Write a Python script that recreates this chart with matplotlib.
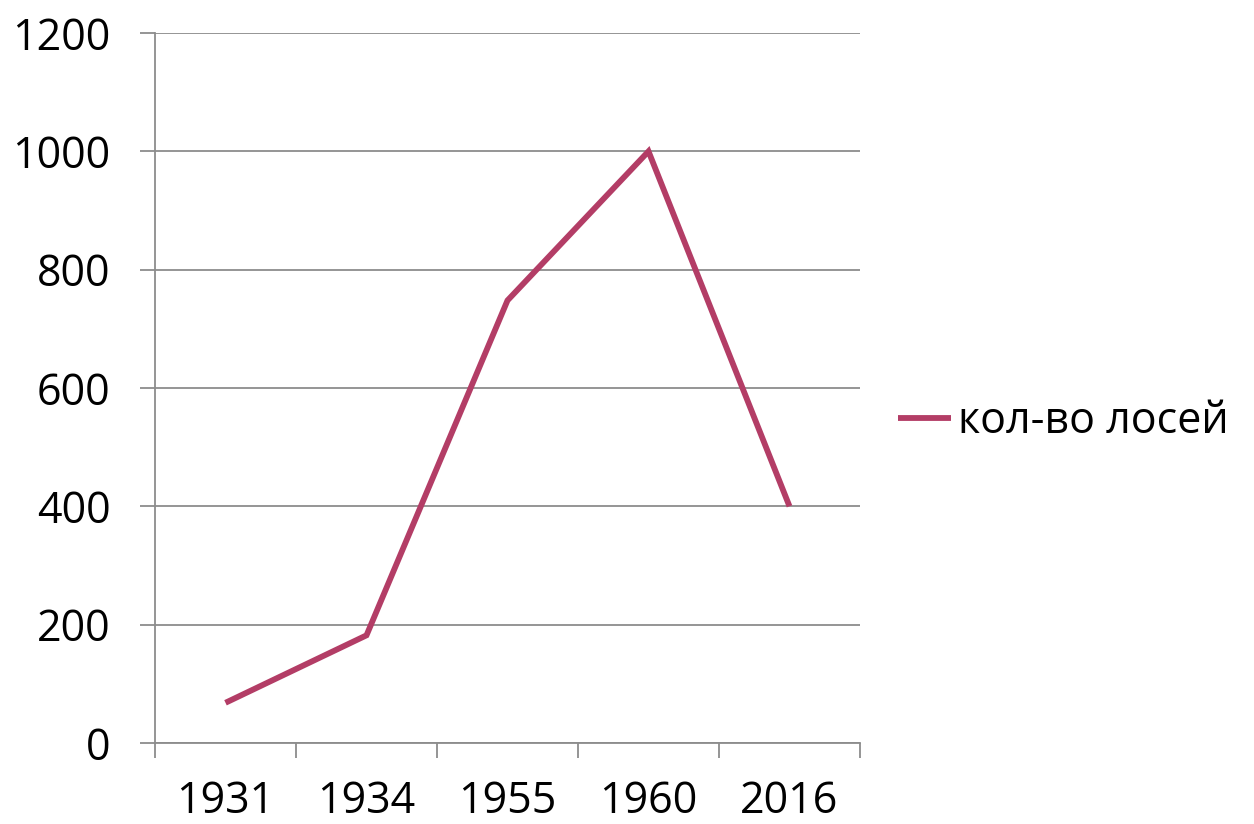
import matplotlib
matplotlib.use("Agg")
import matplotlib.pyplot as plt

# данные
years = ["1931", "1934", "1955", "1960", "2016"]
moose = [68, 182, 748, 1000, 400]
series_name = "кол-во лосей"

plt.rcParams['font.family'] = ['Open Sans', 'DejaVu Sans']

fig = plt.figure(figsize=(12.54, 8.24), dpi=100)
ax = fig.add_axes([155 / 1254, 1 - 743 / 824, 705 / 1254, 710 / 824])

x = list(range(len(years)))
ax.plot(x, moose, color='#B33D66', linewidth=4.2, solid_joinstyle='miter',
        solid_capstyle='butt', label=series_name, zorder=3)

ax.set_xlim(-0.5, len(years) - 0.5)
ax.set_ylim(0, 1200)
ax.set_yticks(range(0, 1201, 200))
ax.set_xticks(x)
ax.set_xticklabels(years)
ax.set_xticks([i - 0.5 for i in range(len(years) + 1)], minor=True)

ax.grid(axis='y', color='#8c8c8c', linewidth=1.3)
ax.set_axisbelow(True)
for side in ['top', 'right']:
    ax.spines[side].set_visible(False)
for side in ['left', 'bottom']:
    ax.spines[side].set_color('#8c8c8c')
    ax.spines[side].set_linewidth(1.3)

fs = 31
ax.tick_params(axis='y', length=11, width=1.3, color='#8c8c8c', pad=21,
               labelsize=fs)
ax.tick_params(axis='x', which='major', length=0, pad=26, labelsize=fs)
ax.tick_params(axis='x', which='minor', length=11, width=1.3, color='#8c8c8c')

ax.legend(loc='center left', bbox_to_anchor=(1.029, 0.452), frameon=False,
          fontsize=fs, handlelength=1.25, handletextpad=0.15, borderaxespad=0)

fig.savefig('out.png', dpi=100)
